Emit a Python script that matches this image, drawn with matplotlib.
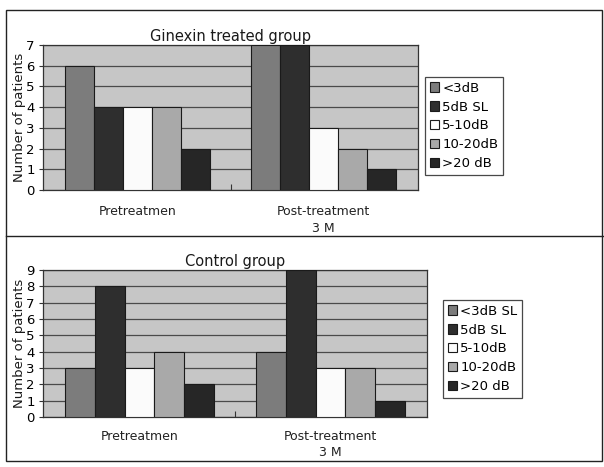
import numpy as np
import matplotlib
matplotlib.use("Agg")
import matplotlib.pyplot as plt
from matplotlib.patches import Rectangle, Patch
from matplotlib.lines import Line2D

# data
groups = ["Pretreatmen", "Post-treatment\n3 M"]
ginexin_labels = ["<3dB", "5dB SL", "5-10dB", "10-20dB", ">20 dB"]
control_labels = ["<3dB SL", "5dB SL", "5-10dB", "10-20dB", ">20 dB"]
ginexin_pre = [6, 4, 4, 4, 2]
ginexin_post = [7, 7, 3, 2, 1]
control_pre = [3, 8, 3, 4, 2]
control_post = [4, 9, 3, 3, 1]

bar_colors = ["#7c7c7c", "#2e2e2e", "#fbfbfb", "#a9a9a9", "#262626"]

W, H = 604, 467
fig = plt.figure(figsize=(W / 100, H / 100), dpi=100)
fig.patch.set_facecolor("white")


def px_axes(left, top, right, bottom):
    return fig.add_axes([left / W, 1 - bottom / H, (right - left) / W, (bottom - top) / H])


def panel(ax, title, pre, post, labels, ymax, leg_box, lab_off):
    ax.set_facecolor("#c6c6c6")
    width = 0.155
    x = np.arange(len(groups))
    for i in range(len(labels)):
        vals = [pre[i], post[i]]
        ax.bar(x - 2 * width + i * width, vals, width, color=bar_colors[i],
               edgecolor="#1a1a1a", linewidth=0.8, zorder=3)
    ax.set_xlim(-0.505, 1.505)
    ax.set_ylim(0, ymax)
    ax.set_yticks(range(ymax + 1))
    ax.yaxis.grid(True, color="#4a4a4a", linewidth=0.9, zorder=1)
    ax.set_axisbelow(True)
    ax.set_xticks([0.5])
    ax.set_xticklabels([""])
    ax.tick_params(axis="x", length=4, width=0.8, color="#333333", direction="in")
    ax.tick_params(axis="y", length=3, width=0.8, labelsize=9.5, pad=3, color="#333333")
    for s in ax.spines.values():
        s.set_color("#333333")
        s.set_linewidth(0.9)
    for g, lab in zip(x, groups):
        ax.annotate(lab, (g, 0), xycoords=("data", "axes fraction"),
                    xytext=(0, -lab_off), textcoords="offset points",
                    ha="center", va="top", fontsize=9, linespacing=1.35, color="#222222")
    ax.set_title(title, fontsize=10.5, pad=3, color="#1a1a1a")
    ax.set_ylabel("Number of patients", fontsize=9.5, color="#1a1a1a")
    # right edge of the rotated label about 26 px from the figure's left edge
    ax.yaxis.set_label_coords((26 - 43) / (ax.get_position().width * W), 0.5)
    handles = [Patch(facecolor=c, edgecolor="#1a1a1a", linewidth=0.8) for c in bar_colors]
    leg = fig.legend(handles, labels, loc="upper left",
                     bbox_to_anchor=(leg_box[0] / W, 1 - leg_box[1] / H),
                     fontsize=9.5, frameon=True, fancybox=False,
                     handlelength=0.7, handleheight=0.7, handletextpad=0.25,
                     labelspacing=0.45, borderpad=0.35, borderaxespad=0)
    leg.get_frame().set_edgecolor("#1a1a1a")
    leg.get_frame().set_linewidth(0.9)


ax1 = px_axes(43, 45, 418, 190)
panel(ax1, "Ginexin treated group", ginexin_pre, ginexin_post, ginexin_labels, 7, (425, 77), 11)

ax2 = px_axes(43, 270, 427, 417)
panel(ax2, "Control group", control_pre, control_post, control_labels, 9, (443, 300), 9)

# outer frame and separator line
fig.add_artist(Rectangle((6 / W, 6 / H), (W - 8) / W, (H - 16) / H, transform=fig.transFigure,
                         fill=False, edgecolor="#222222", linewidth=1.0))
fig.add_artist(Line2D([6 / W, 1], [1 - 236 / H, 1 - 236 / H], transform=fig.transFigure,
                      color="#222222", linewidth=1.0))

fig.savefig("out.png", dpi=100)
